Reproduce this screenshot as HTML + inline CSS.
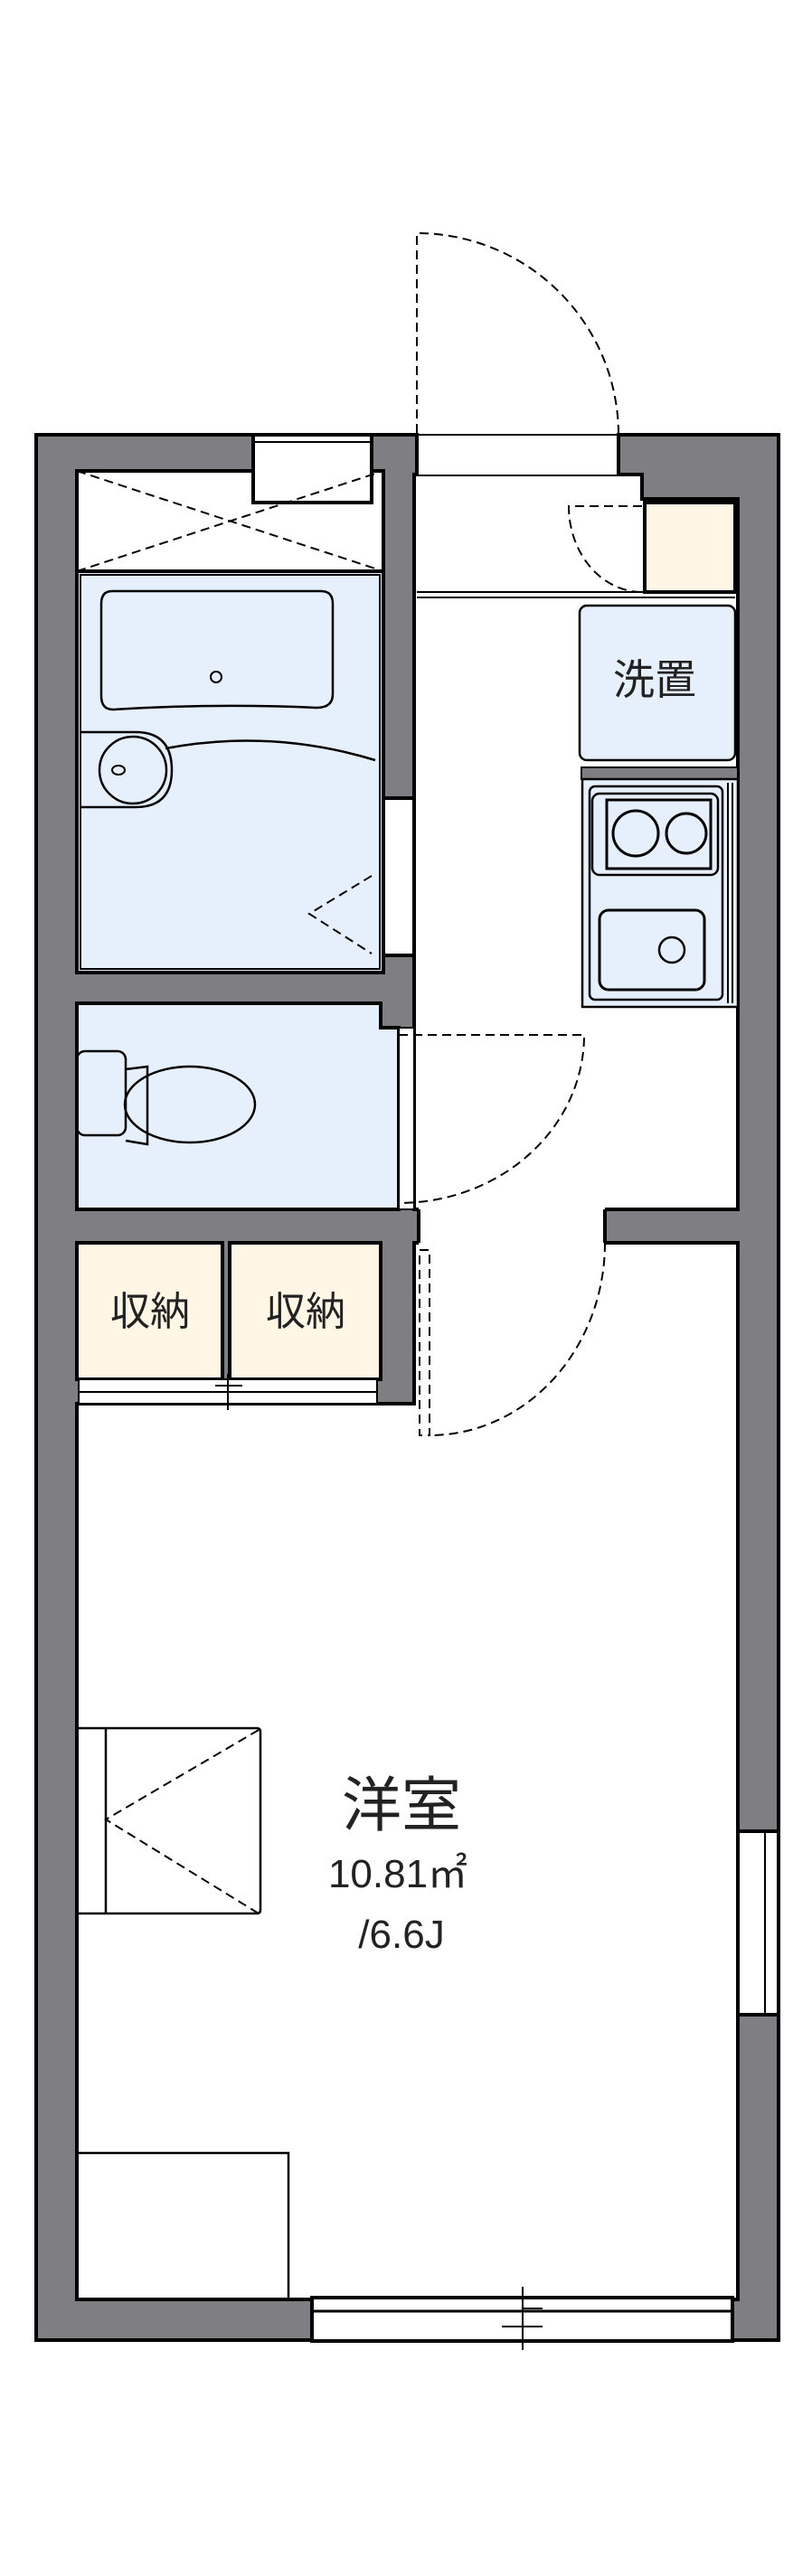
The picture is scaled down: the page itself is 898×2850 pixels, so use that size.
<!DOCTYPE html>
<html><head><meta charset="utf-8"><style>
html,body{margin:0;padding:0;background:#fff;}
svg{display:block;}
text{font-family:"Liberation Sans","Noto Sans CJK JP",sans-serif;fill:#222;}
</style></head><body>
<svg width="898" height="2850" viewBox="0 0 898 2850" xmlns="http://www.w3.org/2000/svg">
<g stroke="#000" stroke-width="4">
<!-- outer walls -->
<rect x="40" y="481" width="821" height="2108" fill="#7f7e83"/>
<!-- bath upper white -->
<rect x="85" y="521" width="339" height="111" fill="#fff"/>
<!-- top window recess -->
<rect x="280" y="481" width="131" height="75" fill="#fff" stroke-width="4"/>
<line x1="280" y1="489" x2="411" y2="489" stroke-width="2"/>
<!-- bath blue -->
<rect x="85" y="632" width="339" height="444" fill="#e6f0fd"/>
<!-- corridor -->
<polygon points="458,525 710,525 710,552 816,552 816,1338 458,1338" fill="#fff"/>
<!-- entry opening -->
<rect x="461" y="479" width="223" height="46" fill="#fff" stroke="none"/>
<line x1="461" y1="479" x2="461" y2="525"/><line x1="684" y1="479" x2="684" y2="525"/>
<line x1="461" y1="481" x2="684" y2="481" stroke-width="2"/>
<!-- toilet -->
<polygon points="85,1110 421,1110 421,1137 441,1137 441,1338 85,1338" fill="#e6f0fd"/>
<!-- storage -->
<rect x="85" y="1375" width="161" height="151" fill="#fff6e6"/>
<rect x="254" y="1375" width="167" height="151" fill="#fff6e6"/>
<!-- room -->
<polygon points="85,1553 458,1553 458,1375 816,1375 816,2544 85,2544" fill="#fff"/>
<!-- hall door opening -->
<rect x="463" y="1336" width="206" height="41" fill="#fff" stroke="none"/>
<line x1="463" y1="1338" x2="463" y2="1375"/><line x1="669" y1="1338" x2="669" y2="1375"/>
<!-- bath door opening -->
<rect x="424" y="883" width="34" height="174" fill="#fff"/>
<!-- toilet door opening -->
<rect x="441" y="1137" width="17" height="201" fill="#fff" stroke-width="2"/>
<!-- storage sliding rails -->
<rect x="87" y="1526" width="330" height="27" fill="#fff" stroke-width="2"/>
<line x1="87" y1="1540" x2="417" y2="1540" stroke-width="2"/>
<line x1="252" y1="1520" x2="252" y2="1560" stroke-width="2"/>
<line x1="238" y1="1533" x2="268" y2="1533" stroke-width="2"/>
<!-- bottom window -->
<rect x="345" y="2542" width="465" height="48" fill="#fff"/>
<line x1="345" y1="2557" x2="810" y2="2557" stroke-width="3"/>
<line x1="578" y1="2530" x2="578" y2="2600" stroke-width="2"/>
<line x1="555" y1="2574" x2="600" y2="2574" stroke-width="2"/>
<line x1="578" y1="2554" x2="600" y2="2554" stroke-width="2"/>
<!-- right window -->
<rect x="816" y="2026" width="45" height="203" fill="#fff"/>
<line x1="846" y1="2026" x2="846" y2="2229" stroke-width="2"/>
<!-- shoe box -->
<rect x="713" y="556" width="100" height="99" fill="#fff6e6"/>
<!-- step lines -->
<line x1="461" y1="655" x2="813" y2="655" stroke-width="2"/>
<line x1="461" y1="661" x2="813" y2="661" stroke-width="2"/>
<!-- washer -->
<rect x="641" y="670" width="172" height="171" rx="8" fill="#e6f0fd" stroke-width="2.5"/>
<rect x="643" y="849" width="173" height="13" fill="#7f7e83" stroke-width="2"/>
<!-- kitchen -->
<rect x="644" y="862" width="172" height="252" fill="#e6f0fd" stroke-width="2.5"/>
<line x1="805" y1="866" x2="805" y2="1110" stroke-width="2"/>
<line x1="810" y1="866" x2="810" y2="1110" stroke-width="2"/>
<rect x="652" y="870" width="147" height="236" rx="6" fill="none" stroke-width="2.5"/>
<rect x="655" y="878" width="139" height="90" rx="8" fill="none" stroke-width="2.5"/>
<rect x="671" y="885" width="115" height="76" fill="none" stroke-width="3"/>
<circle cx="703" cy="922" r="25" fill="none" stroke-width="3"/>
<circle cx="759" cy="922" r="22" fill="none" stroke-width="3"/>
<rect x="663" y="1007" width="116" height="88" rx="10" fill="none" stroke-width="3"/>
<circle cx="743" cy="1051" r="14" fill="none" stroke-width="2.5"/>
<!-- bath fixtures -->
<rect x="89" y="636" width="331" height="436" fill="none" stroke-width="2"/>
<path d="M124,654 H355 Q368,654 368,668 V768 Q368,783 350,783 Q240,778 125,785 Q112,785 112,770 V668 Q112,654 124,654 Z" fill="none" stroke-width="2.5"/>
<circle cx="239" cy="749" r="6" fill="none" stroke-width="2"/>
<path d="M89,810 H150 Q190,810 190,852 Q190,893 150,893 H89" fill="none" stroke-width="2.5"/>
<circle cx="147" cy="852" r="37" fill="none" stroke-width="2.5"/>
<ellipse cx="131" cy="852" rx="7" ry="5" fill="none" stroke-width="2"/>
<path d="M183,828 Q300,806 415,841" fill="none" stroke-width="2.5"/>
<!-- toilet fixture -->
<rect x="85" y="1163" width="54" height="93" rx="9" fill="none" stroke-width="2.5"/>
<path d="M139,1183 L163,1180 L163,1266 L139,1262" fill="none" stroke-width="2.5"/>
<ellipse cx="210" cy="1222" rx="72" ry="42" fill="none" stroke-width="2.5"/>
<rect x="163" y="1185" width="1" height="75" fill="#000" stroke="none"/>
<!-- bed & desk -->
<path d="M85,1912 H284 Q288,1912 288,1916 V2113 Q288,2117 284,2117 H85" fill="none" stroke-width="2.5"/>
<line x1="117" y1="1912" x2="117" y2="2117" stroke-width="2.5"/>
<rect x="85" y="2382" width="234" height="162" fill="none" stroke-width="2.5"/>
</g>
<!-- dashed elements -->
<g stroke="#000" stroke-width="2" fill="none" stroke-dasharray="10,6">
<path d="M461,479 V258 A223,223 0 0 1 684,479"/>
<path d="M85,521 L424,632 M85,632 L424,521"/>
<path d="M411,969 L342,1011 L411,1055"/>
<path d="M710,560 H629 A81,95 0 0 0 710,655"/>
<path d="M441,1145 H646 A205,186 0 0 1 441,1331"/>
<rect x="464" y="1383" width="11" height="205"/>
<path d="M669,1375 A194,213 0 0 1 475,1588"/>
<path d="M286,1914 L117,2013 L286,2117"/>
</g>
<text x="724" y="768" font-size="46" text-anchor="middle">洗置</text>
<text x="166" y="1466" font-size="44" text-anchor="middle">収納</text>
<text x="338" y="1466" font-size="44" text-anchor="middle">収納</text>
<text x="444" y="2020" font-size="66" text-anchor="middle">洋室</text>
<text x="440" y="2088" font-size="44" text-anchor="middle">10.81㎡</text>
<text x="444" y="2155" font-size="44" text-anchor="middle">/6.6J</text>
</svg>
</body></html>
